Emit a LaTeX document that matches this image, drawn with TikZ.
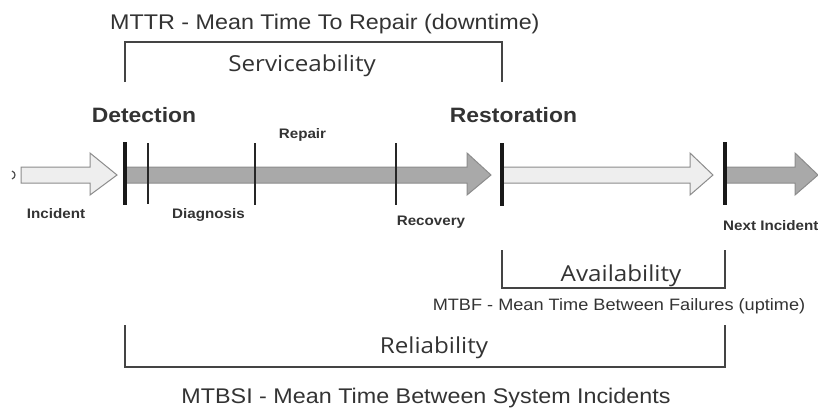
\documentclass[tikz,border=0pt]{standalone}
\usepackage{fontspec}
\setmainfont{Liberation Sans}
\newfontfamily\comicfont{Open Sans}
\newcommand{\sx}[1]{\scalebox{1.1}[1]{#1}}
\definecolor{txt}{HTML}{333333}
\definecolor{lightfill}{HTML}{EEEEEE}
\definecolor{darkfill}{HTML}{A9A9A9}
\definecolor{arrowedge}{HTML}{8C8C8C}
\definecolor{brk}{HTML}{444444}
\begin{document}
\begin{tikzpicture}[x=1pt,y=-1pt,
  lbl/.style={inner sep=0pt,text=txt,anchor=base},
  big/.style={lbl,font=\fontsize{21.2}{24}\selectfont},
  mid/.style={lbl,font=\fontsize{16.5}{19}\selectfont},
  head/.style={lbl,font=\fontsize{20.8}{24}\selectfont\bfseries},
  small/.style={lbl,font=\fontsize{13.8}{16}\selectfont\bfseries},
  comic/.style={lbl,font=\fontsize{22}{26}\selectfont\comicfont},
  lightarrow/.style={fill=lightfill,draw=arrowedge,line width=1pt,line join=miter},
  darkarrow/.style={fill=darkfill,draw=arrowedge,line width=1pt,line join=miter},
  thickmark/.style={draw=black!90,line width=3.6pt},
  thinmark/.style={draw=black!85,line width=1.8pt},
  bracket/.style={draw=brk,line width=1.6pt}]
\useasboundingbox (0,0) rectangle (818,408);

% arrows
\path[lightarrow] (21,167) -- (90,167) -- (90,153) -- (117,175) -- (90,195) -- (90,183) -- (21,183) -- cycle;
\path[darkarrow] (125,167) -- (467,167) -- (467,153) -- (491,175) -- (467,195) -- (467,183) -- (125,183) -- cycle;
\path[lightarrow] (502,167) -- (690,167) -- (690,153) -- (713,175) -- (690,195) -- (690,183) -- (502,183) -- cycle;
\path[darkarrow] (725,167) -- (795,167) -- (795,153) -- (818,175) -- (795,195) -- (795,183) -- (725,183) -- cycle;

% fragment of a previous arrow at the left edge
\draw[draw=black!70,line width=1.2pt] (12,171) .. controls (16,172.5) and (16,177.5) .. (12,179);

% markers
\coordinate (det-t) at (125,142); \coordinate (det-b) at (125,205);
\coordinate (d2-t) at (148,143); \coordinate (d2-b) at (148,204);
\coordinate (rep-t) at (255,143); \coordinate (rep-b) at (255,205);
\coordinate (rec-t) at (396,143); \coordinate (rec-b) at (396,205);
\coordinate (res-t) at (502,143); \coordinate (res-b) at (502,206);
\coordinate (nxt-t) at (725,142); \coordinate (nxt-b) at (725,205);
\draw[thickmark] (det-t) -- (det-b);
\draw[thinmark] (d2-t) -- (d2-b);
\draw[thinmark] (rep-t) -- (rep-b);
\draw[thinmark] (rec-t) -- (rec-b);
\draw[thickmark] (res-t) -- (res-b);
\draw[thickmark] (nxt-t) -- (nxt-b);

% brackets
\coordinate (sv-l) at (125,82); \coordinate (sv-r) at (502,82);
\draw[bracket] (sv-l) -- (125,42) -- (502,42) -- (sv-r);
\coordinate (av-l) at (502,250); \coordinate (av-r) at (725,250);
\draw[bracket] (av-l) -- (502,288) -- (725,288) -- (av-r);
\coordinate (rl-l) at (125,325); \coordinate (rl-r) at (725,325);
\draw[bracket] (rl-l) -- (125,367) -- (725,367) -- (rl-r);

% texts
\node[big,anchor=base west] (mttr) at (110,29) {\sx{MTTR - Mean Time To Repair (downtime)}};
\node[comic] (serv) at (302,71) {\sx{Serviceability}};
\node[head] (detection) at (144,122) {\sx{Detection}};
\node[head] (restoration) at (513.5,122) {\sx{Restoration}};
\node[small] (repair) at (302.5,138) {\sx{Repair}};
\node[small] (incident) at (56,218) {\sx{Incident}};
\node[small] (diagnosis) at (208.5,218) {\sx{Diagnosis}};
\node[small] (recovery) at (431,225) {\sx{Recovery}};
\node[small,anchor=base west] (next) at (723,230) {\sx{Next Incident}};
\node[comic] (avail) at (621,281) {\sx{Availability}};
\node[mid] (mtbf) at (619,310) {\sx{MTBF - Mean Time Between Failures (uptime)}};
\node[comic] (reli) at (434,353) {\sx{Reliability}};
\node[big] (mtbsi) at (426,403) {\sx{MTBSI - Mean Time Between System Incidents}};
\end{tikzpicture}
\end{document}
